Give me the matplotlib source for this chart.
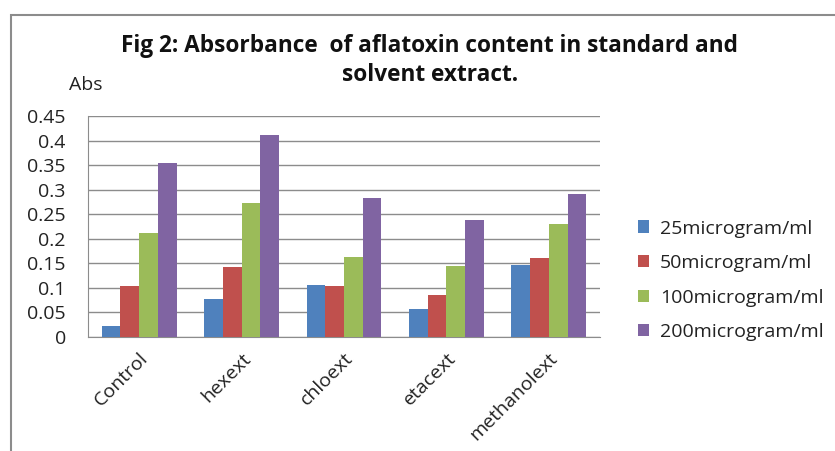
import numpy as np
import matplotlib
matplotlib.use("Agg")
from matplotlib import pyplot as plt
from matplotlib.patches import Rectangle

categories = ['Control', 'hexext', 'chloext', 'etacext', 'methanolext']
series = ['25microgram/ml', '50microgram/ml', '100microgram/ml', '200microgram/ml']
v25 = [0.023, 0.077, 0.106, 0.057, 0.146]
v50 = [0.104, 0.142, 0.104, 0.085, 0.160]
v100 = [0.212, 0.272, 0.162, 0.144, 0.230]
v200 = [0.354, 0.412, 0.283, 0.239, 0.291]
colors = ['#4F81BD', '#C0504D', '#9BBB59', '#8064A2']
yticks = [0, 0.05, 0.1, 0.15, 0.2, 0.25, 0.3, 0.35, 0.4, 0.45]
ytick_labels = ['0', '0.05', '0.1', '0.15', '0.2', '0.25', '0.3', '0.35', '0.4', '0.45']

plt.rcParams['font.family'] = ['Open Sans', 'DejaVu Sans']

fig = plt.figure(figsize=(8.35, 4.51), dpi=100)
ax = fig.add_axes([88/835, 1-337/451, 512/835, 221/451])

x = np.arange(len(categories))
w = 0.183
for i, vals in enumerate([v25, v50, v100, v200]):
    ax.bar(x + (i - 1.5)*w, vals, w, color=colors[i], label=series[i], zorder=3)

ax.set_xlim(-0.5, len(categories) - 0.5)
ax.set_ylim(0, 0.45)
ax.set_yticks(yticks)
ax.set_yticklabels(ytick_labels, fontsize=14, color='#222222')
ax.yaxis.grid(True, color='#8c8c8c', linewidth=1, zorder=0)
ax.tick_params(axis='y', length=0, pad=16)
ax.tick_params(axis='x', length=0, pad=9)
ax.set_xticks(x)
ax.set_xticklabels(categories, rotation=45, ha='right', rotation_mode='anchor',
                   fontsize=14, color='#222222')
for s in ['top', 'right']:
    ax.spines[s].set_visible(False)
ax.spines['left'].set_color('#8c8c8c')
ax.spines['bottom'].set_color('#8c8c8c')

fig.text(430/835, 1-46/451, 'Fig 2: Absorbance  of aflatoxin content in standard and',
         ha='center', va='center', fontsize=16.3, fontweight='bold', color='#111111')
fig.text(430/835, 1-75/451, 'solvent extract.', ha='center', va='center',
         fontsize=16.3, fontweight='bold', color='#111111')
fig.text(86/835, 1-85/451, 'Abs', ha='center', va='center', fontsize=14, color='#222222')

leg = fig.legend(loc='upper left', bbox_to_anchor=(620/835, 1-202/451), frameon=False,
                 fontsize=14, handlelength=0.6, handleheight=0.6, handletextpad=0.55,
                 labelspacing=0.85)
for t in leg.get_texts():
    t.set_color('#222222')

# outer chart frame
fig.patches.append(Rectangle((11/835, -0.1), 2, 1 - 15/451 + 0.1, transform=fig.transFigure,
                             fill=False, edgecolor='#8c8c8c', linewidth=1.5))

fig.savefig('out.png', dpi=100)
